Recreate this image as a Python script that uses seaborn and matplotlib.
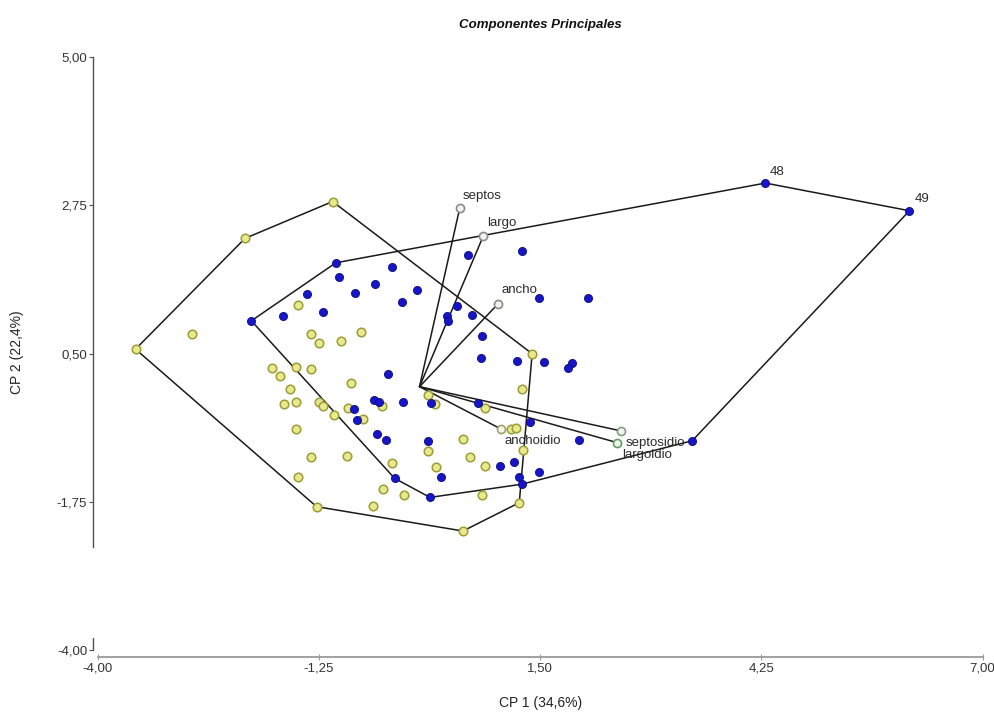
import numpy as np
import pandas as pd
import matplotlib
matplotlib.use("Agg")
import matplotlib.pyplot as plt
import matplotlib.transforms as mtransforms
import seaborn as sns

# ---------------- data ----------------
# group A (yellow open circles)
ya_x = [-3.53, -2.17, -1.08, 1.40, 1.24, 0.54, -1.28, -2.83, -1.51, -1.35, -1.25, -0.98,
        -0.73, -1.83, -1.73, -1.53, -1.35, -1.61, -0.85, -1.69, -1.53, -1.25, -1.20, -1.06,
        -0.89, -0.70, -0.47, 0.11, 0.19, -1.53, -1.35, -0.90, -1.51, -0.34, 0.11, 0.21,
        -0.45, -0.19, -0.58, 0.82, 1.28, 1.14, 1.20, 0.54, 0.63, 0.82, 0.78, 1.29]
ya_y = [0.57, 2.25, 2.81, 0.50, -1.76, -2.19, -1.82, 0.80, 1.24, 0.80, 0.66, 0.70,
        0.83, 0.29, 0.16, 0.30, 0.27, -0.03, 0.05, -0.27, -0.23, -0.23, -0.30, -0.43,
        -0.33, -0.49, -0.30, -0.12, -0.26, -0.64, -1.06, -1.05, -1.37, -1.16, -0.97, -1.22,
        -1.55, -1.64, -1.81, -0.32, -0.04, -0.64, -0.62, -0.79, -1.06, -1.20, -1.64, -0.96]

# group B (blue filled dots), ids 1..49
bl_x = [-2.09, -1.04, -0.34, -1.00, -0.55, -1.40, -0.80, -0.03, -0.22, -1.70, -1.20, 0.34,
        0.36, 0.46, 0.60, 1.27, 1.49, 2.10, 0.65, 0.78, 0.77, 1.21, 1.55, 1.90, 1.84,
        -0.39, -0.56, -0.50, -0.20, 0.14, 0.73, -0.81, -0.78, 1.37, 1.98, -0.53, -0.42,
        0.11, 1.18, 1.00, 1.48, 0.27, 1.24, 1.27, 0.13, -0.31, 3.39, 4.30, 6.09]
bl_y = [1.00, 1.88, 1.82, 1.67, 1.56, 1.40, 1.42, 1.47, 1.28, 1.08, 1.14, 1.07,
        1.00, 1.23, 2.00, 2.06, 1.34, 1.34, 1.09, 0.77, 0.43, 0.39, 0.38, 0.36, 0.29,
        0.20, -0.20, -0.23, -0.23, -0.24, -0.24, -0.34, -0.51, -0.53, -0.81, -0.72, -0.81,
        -0.83, -1.14, -1.20, -1.29, -1.37, -1.37, -1.48, -1.68, -1.39, -0.82, 3.09, 2.67]
bl_ids = list(range(1, len(bl_x) + 1))
labeled_ids = [48, 49]

# variable vectors
var_names = ["septos", "largo", "ancho", "anchoidio", "septosidio", "largoidio"]
var_x = [0.50, 0.79, 0.97, 1.01, 2.46, 2.50]
var_y = [2.71, 2.28, 1.25, -0.64, -0.85, -0.67]

x_ticks = [-4.00, -1.25, 1.50, 4.25, 7.00]
y_ticks = [-4.00, -1.75, 0.50, 2.75, 5.00]
x_ticklabels = ["-4,00", "-1,25", "1,50", "4,25", "7,00"]
y_ticklabels = ["-4,00", "-1,75", "0,50", "2,75", "5,00"]

title = "Componentes Principales"
x_label = "CP 1 (34,6%)"
y_label = "CP 2 (22,4%)"

# ---------------- style ----------------
sns.set_style("white")
plt.rcParams["font.family"] = ["Liberation Sans", "DejaVu Sans"]

var_label_offsets = {  # pixels
    "septos": (3, 12), "largo": (4, 13), "ancho": (4, 14),
    "anchoidio": (4, -12), "septosidio": (8, 0), "largoidio": (1, -24),
}
var_edge = {"septos": "#8a8a8a", "largo": "#8a8a8a", "ancho": "#8a8a8a",
            "anchoidio": "#a0a070", "septosidio": "#5fa05f", "largoidio": "#7fa07f"}
id_label_offsets = {48: (4, 11), 49: (5, 12)}


def convex_hull(xs, ys):
    pts = sorted(set(zip(xs, ys)))

    def cross(o, a, b):
        return (a[0] - o[0]) * (b[1] - o[1]) - (a[1] - o[1]) * (b[0] - o[0])

    lower, upper = [], []
    for p in pts:
        while len(lower) >= 2 and cross(lower[-2], lower[-1], p) <= 0:
            lower.pop()
        lower.append(p)
    for p in reversed(pts):
        while len(upper) >= 2 and cross(upper[-2], upper[-1], p) <= 0:
            upper.pop()
        upper.append(p)
    hull = lower[:-1] + upper[:-1]
    hull.append(hull[0])
    return [p[0] for p in hull], [p[1] for p in hull]


fig = plt.figure(figsize=(9.95, 7.15), dpi=100)
ax = fig.add_axes([0.0982, 0.0905, 0.8894, 0.8295])

df_a = pd.DataFrame({"CP1": ya_x, "CP2": ya_y})
df_b = pd.DataFrame({"CP1": bl_x, "CP2": bl_y, "id": bl_ids})
df_v = pd.DataFrame({"CP1": var_x, "CP2": var_y, "var": var_names})

# hulls
hx, hy = convex_hull(ya_x, ya_y)
ax.plot(hx, hy, color="#1a1a1a", lw=1.1, zorder=2)
hx, hy = convex_hull(bl_x, bl_y)
ax.plot(hx, hy, color="#1a1a1a", lw=1.1, zorder=2)

# vectors
for name, vx, vy in zip(var_names, var_x, var_y):
    ax.plot([0, vx], [0, vy], color="#1a1a1a", lw=1.1, zorder=2)

# points
sns.scatterplot(data=df_a, x="CP1", y="CP2", ax=ax, color="#e8e88c",
                edgecolor="#9c9c3a", linewidth=1.1, s=38, zorder=3, legend=False)
sns.scatterplot(data=df_b, x="CP1", y="CP2", ax=ax, color="#1616c8",
                edgecolor="#0a0a7a", linewidth=0.6, s=34, zorder=4, legend=False)
for name, vx, vy in zip(var_names, var_x, var_y):
    ax.scatter([vx], [vy], s=34, facecolor="#f4f4ec", edgecolor=var_edge[name],
               linewidth=1.2, zorder=5)

# labels
for name, vx, vy in zip(var_names, var_x, var_y):
    dx, dy = var_label_offsets[name]
    ax.annotate(name, (vx, vy), xytext=(dx, dy), textcoords="offset pixels",
                ha="left", va="center", fontsize=9.5, color="#2a2a2a", zorder=6)
for i, vx, vy in zip(bl_ids, bl_x, bl_y):
    if i in labeled_ids:
        dx, dy = id_label_offsets[i]
        ax.annotate(str(i), (vx, vy), xytext=(dx, dy), textcoords="offset pixels",
                    ha="left", va="center", fontsize=9.5, color="#2a2a2a", zorder=6)

# axes
ax.set_xlim(-4, 7)
ax.set_ylim(-4, 5)
ax.set_xticks(x_ticks)
ax.set_xticklabels(x_ticklabels)
ax.set_yticks(y_ticks)
ax.set_yticklabels(y_ticklabels)
ax.spines["top"].set_visible(False)
ax.spines["right"].set_visible(False)
ax.spines["left"].set_position(("outward", 3.6))
ax.spines["bottom"].set_position(("outward", 5))
ax.spines["left"].set_bounds(-2.43, 5)
ax.spines["left"].set_color("#505050")
ax.spines["bottom"].set_color("#9a9a9a")
ax.spines["left"].set_linewidth(1.0)
ax.spines["bottom"].set_linewidth(1.3)
ax.tick_params(axis="y", direction="out", length=3, width=0.8, color="#505050",
               pad=1, labelsize=9.5, labelcolor="#333333", left=True)
ax.tick_params(axis="x", direction="inout", length=4, width=0.8, color="#9a9a9a",
               pad=2, labelsize=9.5, labelcolor="#333333", bottom=True)
# lower stub of the y axis
stub_tr = ax.get_yaxis_transform() + mtransforms.ScaledTranslation(-5 / 100, 0, fig.dpi_scale_trans)
ax.plot([0, 0], [-3.82, -4.0], color="#505050", lw=1.0, transform=stub_tr, clip_on=False)

ax.set_xlabel(x_label, fontsize=10, color="#222222")
ax.set_ylabel(y_label, fontsize=10, color="#222222")
ax.xaxis.set_label_coords(0.5, -0.077)
ax.yaxis.set_label_coords(-0.083, 0.503)
ax.set_title(title, fontsize=9.5, fontweight="bold", fontstyle="italic", pad=21,
             color="#111111")

fig.savefig("out.png", dpi=100)
